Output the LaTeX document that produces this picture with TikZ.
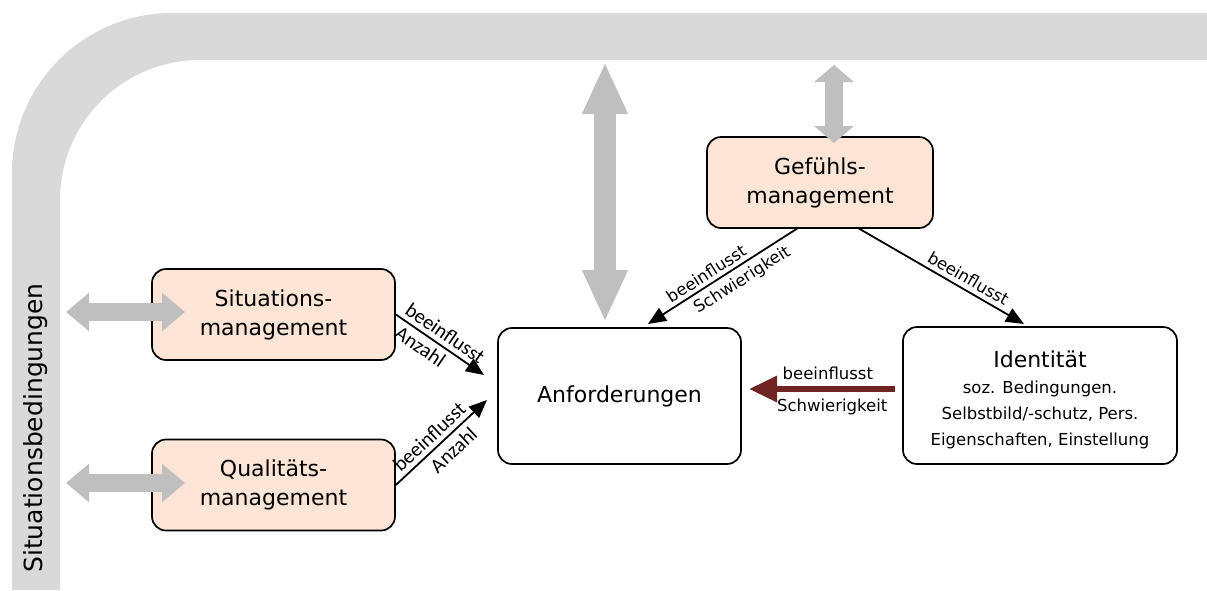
\documentclass[tikz,border=0pt]{standalone}
\usepackage{fontspec}
\setmainfont{DejaVu Sans}
\newfontfamily\lblfont{Carlito}
\usetikzlibrary{arrows.meta}
\definecolor{bandgray}{RGB}{217,217,217}
\definecolor{arrgray}{RGB}{191,191,191}
\definecolor{peach}{RGB}{252,228,214}
\definecolor{darkmaroon}{RGB}{112,36,36}
\begin{document}
\begin{tikzpicture}[x=1pt,y=-1pt,
  box/.style={draw=black, line width=1.7pt, rounded corners=14pt, align=center, inner sep=0pt,
    font=\fontsize{22}{29}\selectfont},
  mgmt/.style={box, fill=peach, minimum width=243pt, minimum height=91pt},
  infl/.style={-{Triangle[length=18pt,width=15pt]}, line width=1.8pt},
  inflrev/.style={{Triangle[length=18pt,width=15pt]}-, line width=1.8pt},
  lbl/.style={font=\fontsize{16.5}{18}\selectfont, inner sep=1.5pt},
  lblc/.style={font=\lblfont\fontsize{20.5}{22}\selectfont, inner sep=1.5pt},
  grayh/.style={arrgray, line width=18pt,
    {Triangle[length=23pt,width=37pt]}-{Triangle[length=23pt,width=37pt]}},
]
\useasboundingbox (0,0) rectangle (1207,590);
% gray band
\fill[bandgray] (12,590) -- (12,173) arc[start angle=180, end angle=270, radius=160]
  -- (1207,13) -- (1207,60) -- (200,60) arc[start angle=270, end angle=180, radius=140]
  -- (60,590) -- cycle;
\node[rotate=90, font=\fontsize{25}{29}\selectfont] (band) at (36,428) {Situationsbedingungen};

% boxes
\node[mgmt] (sit) at (273.5,314.5) {Situations-\\management};
\node[mgmt] (qual) at (273.5,485) {Qualitäts-\\management};
\node[box, minimum width=243pt, minimum height=136pt] (anf) at (619.5,396) {Anforderungen};
\node[box, fill=peach, minimum width=226pt, minimum height=91pt] (gef) at (820,182.5) {Gefühls-\\management};
\node[box, minimum width=274pt, minimum height=137pt] (ide) at (1040,395.5) {};
\node[align=center, inner sep=0pt, font=\fontsize{16.5}{26}\selectfont] (idetxt) at ([yshift=-4pt]ide.center)
  {{\fontsize{22}{26}\selectfont Identität}\\soz. Bedingungen.\\Selbstbild/-schutz, Pers.\\Eigenschaften, Einstellung};

% coordinates
\coordinate (bs) at (66,312);
\coordinate (bsE) at (185,312);
\coordinate (bq) at (66,483);
\coordinate (bqE) at (185,483);
\coordinate (bt1) at (605,62);
\coordinate (anfN) at (605,322);
\coordinate (bt2) at (834,65);
\coordinate (gefN) at (834,143);
\coordinate (a1) at (484,375);
\coordinate (a2) at (487,400);
\coordinate (a3s) at (798,228);
\coordinate (a3e) at (648,324);
\coordinate (a4s) at (858,228);
\coordinate (a4e) at (1024,324);
\coordinate (a5s) at (895,389);
\coordinate (a5e) at (749,389);

% gray arrows
\draw[grayh] (bs) -- (bsE);
\draw[grayh] (bq) -- (bqE);
\draw[arrgray, line width=22pt, {Triangle[length=52pt,width=42pt]}-{Triangle[length=52pt,width=42pt]}] (bt1) -- (anfN);
\draw[arrgray, line width=18pt, {Triangle[length=17pt,width=39pt]}-{Triangle[length=17pt,width=39pt]}] (bt2) -- (gefN);

% influence arrows
\draw[infl] (sit.east) -- (a1)
  node[lblc, sloped, above=3pt, pos=0.48] {beeinflusst}
  node[lblc, sloped, below=3pt, pos=0.36] {Anzahl};
\draw[infl] (qual.east) -- (a2)
  node[lblc, sloped, above=3pt, pos=0.46] {beeinflusst}
  node[lblc, sloped, below=4pt, pos=0.53] {Anzahl};
\draw[inflrev] (a3e) -- (a3s)
  node[lbl, sloped, above=2pt, pos=0.43] {beeinflusst}
  node[lbl, sloped, below=4pt, pos=0.58] {Schwierigkeit};
\draw[infl] (a4s) -- (a4e)
  node[lbl, sloped, above=3pt, pos=0.63] {beeinflusst};
\draw[darkmaroon, line width=6pt, {Triangle[length=28pt,width=25pt]}-] (a5e) -- (a5s)
  node[lbl, black, above=5pt, pos=0.54] {beeinflusst}
  node[lbl, black, below=5pt, pos=0.57] {Schwierigkeit};
\end{tikzpicture}
\end{document}
